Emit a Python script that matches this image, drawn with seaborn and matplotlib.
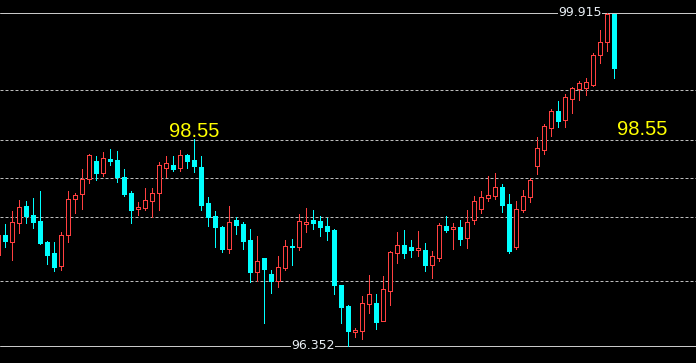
import numpy as np
import pandas as pd
import matplotlib
matplotlib.use("Agg")
import matplotlib.pyplot as plt
import seaborn as sns

# ---- data (prices), first candle is the partial one at the left edge ----
opens = [97.321, 97.535, 97.460, 97.663, 97.845, 97.749, 97.684, 97.460, 97.342, 97.203,
         97.535, 97.920, 97.973, 98.134, 98.326, 98.198, 98.348, 98.337, 98.155, 97.984,
         97.813, 97.823, 97.898, 97.984, 98.251, 98.284, 98.251, 98.391, 98.337, 98.262,
         97.877, 97.738, 97.620, 97.385, 97.695, 97.652, 97.481, 97.139, 97.288, 97.117,
         97.042, 97.181, 97.417, 97.406, 97.652, 97.695, 97.684, 97.631, 97.588, 97.000,
         96.775, 96.497, 96.507, 96.796, 96.807, 96.614, 96.935, 97.342, 97.428, 97.406,
         97.374, 97.374, 97.214, 97.288, 97.631, 97.599, 97.620, 97.502, 97.695, 97.813,
         97.930, 97.952, 98.048, 97.866, 97.406, 97.802, 97.941, 98.273, 98.444, 98.679,
         98.861, 98.765, 98.990, 99.097, 99.107, 99.140, 99.461, 99.600, 99.899]
highs = [97.567, 97.652, 97.791, 97.909, 97.898, 97.930, 98.005, 97.470, 97.460, 97.567,
         98.005, 97.984, 98.241, 98.401, 98.380, 98.423, 98.455, 98.433, 98.241, 98.005,
         97.888, 98.037, 98.037, 98.316, 98.380, 98.380, 98.444, 98.401, 98.562, 98.380,
         97.941, 97.791, 97.631, 97.845, 97.727, 97.674, 97.599, 97.524, 97.288, 97.160,
         97.310, 97.481, 97.492, 97.759, 97.823, 97.802, 97.738, 97.716, 97.599, 97.000,
         96.786, 96.539, 96.882, 97.107, 96.903, 97.096, 97.363, 97.567, 97.588, 97.481,
         97.577, 97.449, 97.363, 97.663, 97.738, 97.663, 97.695, 97.802, 97.952, 98.005,
         98.166, 98.198, 98.080, 97.973, 97.898, 98.016, 98.144, 98.583, 98.722, 98.883,
         98.968, 99.043, 99.118, 99.182, 99.214, 99.482, 99.728, 99.915, 99.899]
lows = [97.288, 97.406, 97.267, 97.556, 97.663, 97.609, 97.438, 97.224, 97.149, 97.160,
        97.460, 97.770, 97.813, 98.091, 98.123, 98.166, 98.284, 98.102, 97.952, 97.663,
        97.749, 97.802, 97.727, 97.802, 98.155, 98.219, 98.219, 98.251, 98.209, 97.802,
        97.631, 97.406, 97.353, 97.342, 97.545, 97.385, 97.032, 97.042, 96.593, 96.914,
        96.978, 97.160, 97.214, 97.374, 97.567, 97.599, 97.524, 97.481, 96.903, 96.593,
        96.352, 96.443, 96.422, 96.700, 96.529, 96.614, 96.786, 97.235, 97.288, 97.299,
        97.310, 97.149, 97.074, 97.256, 97.567, 97.385, 97.428, 97.395, 97.652, 97.770,
        97.898, 97.920, 97.781, 97.342, 97.385, 97.781, 97.888, 98.187, 98.401, 98.594,
        98.690, 98.690, 98.840, 98.979, 99.033, 99.129, 99.375, 99.503, 99.214]
closes = [97.535, 97.470, 97.674, 97.834, 97.738, 97.674, 97.449, 97.321, 97.192, 97.535,
          97.920, 97.963, 98.134, 98.391, 98.198, 98.358, 98.326, 98.155, 97.973, 97.802,
          97.834, 97.909, 97.984, 98.284, 98.305, 98.241, 98.391, 98.326, 98.273, 97.856,
          97.727, 97.620, 97.385, 97.674, 97.642, 97.470, 97.139, 97.256, 97.171, 97.042,
          97.192, 97.417, 97.406, 97.684, 97.674, 97.663, 97.620, 97.577, 97.000, 96.764,
          96.507, 96.518, 96.807, 96.903, 96.604, 96.957, 97.353, 97.428, 97.342, 97.374,
          97.395, 97.214, 97.310, 97.642, 97.588, 97.620, 97.492, 97.674, 97.898, 97.941,
          97.963, 98.048, 97.856, 97.363, 97.813, 97.952, 98.123, 98.465, 98.701, 98.861,
          98.754, 99.011, 99.107, 99.161, 99.172, 99.461, 99.600, 99.899, 99.321]

level_prices = [99.083, 98.55, 98.141, 97.724, 97.039]
range_high = 99.915
range_low = 96.352
level_label = "98.55"
high_label = "99.915"
low_label = "96.352"

# ---- style ----
sns.set_theme(style="dark", rc={
    "figure.facecolor": "#000000",
    "axes.facecolor": "#000000",
    "axes.edgecolor": "#000000",
    "savefig.facecolor": "#000000",
})

UP = "#ff4040"
DOWN = "#00ffff"
BG = "#000000"
PX = 0.72  # one pixel in points at 100 dpi

df = pd.DataFrame({"open": opens, "high": highs, "low": lows, "close": closes})
df["pos"] = np.arange(len(df)) - 1
df["up"] = df["close"] >= df["open"]
df["bottom"] = df[["open", "close"]].min(axis=1)
df["height"] = (df["close"] - df["open"]).abs().clip(lower=0.004)

fig = plt.figure(figsize=(6.96, 3.63), dpi=100)
ax = fig.add_axes([0, 0, 1, 1])
ax.set_facecolor(BG)

# horizontal levels
for lv in level_prices:
    ax.axhline(lv, color="#bdbdbd", lw=PX, dashes=(3, 2), zorder=1)
ax.axhline(range_high, color="#c8c8c8", lw=PX, zorder=1)
ax.axhline(range_low, color="#c8c8c8", lw=PX, zorder=1)

colors = np.where(df["up"], UP, DOWN)
# wicks
ax.vlines(df["pos"], df["low"], df["high"], colors=colors, lw=PX, zorder=2,
          antialiased=False)
# bodies
face = np.where(df["up"], BG, DOWN)
ax.bar(df["pos"], df["height"], bottom=df["bottom"], width=0.6,
       color=face, edgecolor=colors, linewidth=PX, zorder=3, antialiased=False)

# labels
ax.text(23.39, 98.583, level_label, color="#ffff00", fontsize=14.5,
        family="Liberation Sans", ha="left", va="baseline", zorder=5)
ax.text(87.39, 98.600, level_label, color="#ffff00", fontsize=14.5,
        family="Liberation Sans", ha="left", va="baseline", zorder=5)
ax.text(85.24, range_high, high_label, color="#e8eef4", fontsize=9,
        family="DejaVu Sans", ha="right", va="center", zorder=5,
        bbox=dict(facecolor=BG, edgecolor="none", pad=0.3))
ax.text(47.1, range_low, low_label, color="#e8eef4", fontsize=9,
        family="DejaVu Sans", ha="right", va="center", zorder=5,
        bbox=dict(facecolor=BG, edgecolor="none", pad=0.3))

ax.set_xlim(-0.757, 98.67)
ax.set_ylim(96.165, 100.049)
ax.set_xticks([])
ax.set_yticks([])
for s in ax.spines.values():
    s.set_visible(False)

fig.savefig("out.png", dpi=100, facecolor=BG)
